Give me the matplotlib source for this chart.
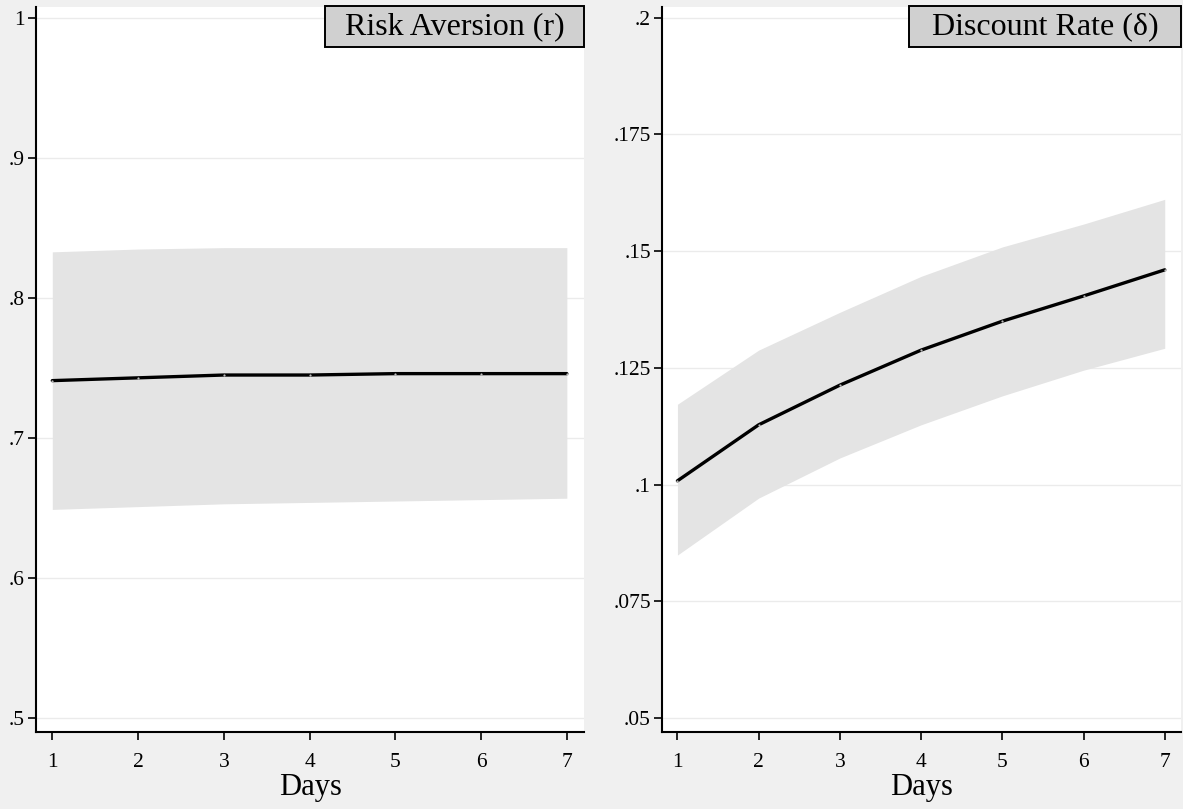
import matplotlib
matplotlib.use("Agg")
import matplotlib.pyplot as plt
from matplotlib.patches import Rectangle

days = [1, 2, 3, 4, 5, 6, 7]

risk_mean = [0.741, 0.743, 0.745, 0.745, 0.746, 0.746, 0.746]
risk_upper = [0.833, 0.835, 0.836, 0.836, 0.836, 0.836, 0.836]
risk_lower = [0.649, 0.651, 0.653, 0.654, 0.655, 0.656, 0.657]

disc_mean = [0.1008, 0.1128, 0.1213, 0.1288, 0.1350, 0.1404, 0.1460]
disc_upper = [0.1172, 0.1288, 0.1369, 0.1446, 0.1509, 0.1558, 0.1611]
disc_lower = [0.0849, 0.0971, 0.1057, 0.1128, 0.1190, 0.1245, 0.1292]

risk_ticks = [0.5, 0.6, 0.7, 0.8, 0.9, 1.0]
risk_ticklabels = [".5", ".6", ".7", ".8", ".9", "1"]
disc_ticks = [0.05, 0.075, 0.1, 0.125, 0.15, 0.175, 0.2]
disc_ticklabels = [".05", ".075", ".1", ".125", ".15", ".175", ".2"]

titles = ["Risk Aversion (r)", "Discount Rate (\u03b4)"]

plt.rcParams['font.family'] = ['Liberation Serif', 'DejaVu Serif']

W, H = 1183, 809
fig = plt.figure(figsize=(W / 100, H / 100), dpi=100)
fig.patch.set_facecolor('#f0f0f0')

def px_axes(x0, x1, ytop, ybot):
    return fig.add_axes([x0 / W, 1 - ybot / H, (x1 - x0) / W, (ybot - ytop) / H])

ax1 = px_axes(36, 584, 7, 732)
ax2 = px_axes(662, 1181, 7, 732)

panels = [
    (ax1, risk_mean, risk_upper, risk_lower, risk_ticks, risk_ticklabels, (0.49, 1.0079), titles[0], 259),
    (ax2, disc_mean, disc_upper, disc_lower, disc_ticks, disc_ticklabels, (0.047, 0.2023), titles[1], 272),
]

for ax, m, up, lo, yt, ytl, ylim, title, boxw in panels:
    ax.set_facecolor('white')
    for t in yt:
        ax.axhline(t, color='#ebebeb', lw=1.0, zorder=0)
    ax.fill_between(days, lo, up, color='#e4e4e4', lw=0, zorder=1)
    ax.plot(days, m, color='black', lw=2.4, zorder=3, solid_capstyle='round',
            marker='o', ms=1.6, mfc='#bbbbbb', mec='#bbbbbb', mew=0)
    ax.set_xlim(0.81, 7.2)
    ax.set_ylim(*ylim)
    ax.set_yticks(yt)
    ax.set_yticklabels(ytl)
    ax.set_xticks(days)
    ax.set_xticklabels([str(d) for d in days])
    ax.tick_params(axis='both', direction='out', length=6, width=1.2, labelsize=15.5, color='black')
    ax.tick_params(axis='x', pad=9)
    ax.tick_params(axis='y', pad=2)
    for s in ['top', 'right']:
        ax.spines[s].set_visible(False)
    for s in ['left', 'bottom']:
        ax.spines[s].set_linewidth(1.5)
    ax.set_xlabel("Days", fontsize=22, labelpad=1)
    # title box in top-right corner
    bw = boxw / (ax.get_position().width * W)
    bh = 41 / (ax.get_position().height * H)
    rect = Rectangle((1 - bw, 1 - bh + 0.0015), bw, bh, transform=ax.transAxes,
                     facecolor='#d0d0d0', edgecolor='black', lw=1.4, zorder=5, clip_on=False)
    ax.add_patch(rect)
    ax.text(1 - bw / 2, 1 - bh / 2 + 0.0015, title, transform=ax.transAxes, ha='center', va='center',
            fontsize=23, zorder=6)

fig.savefig("out.png", dpi=100, facecolor=fig.get_facecolor())
